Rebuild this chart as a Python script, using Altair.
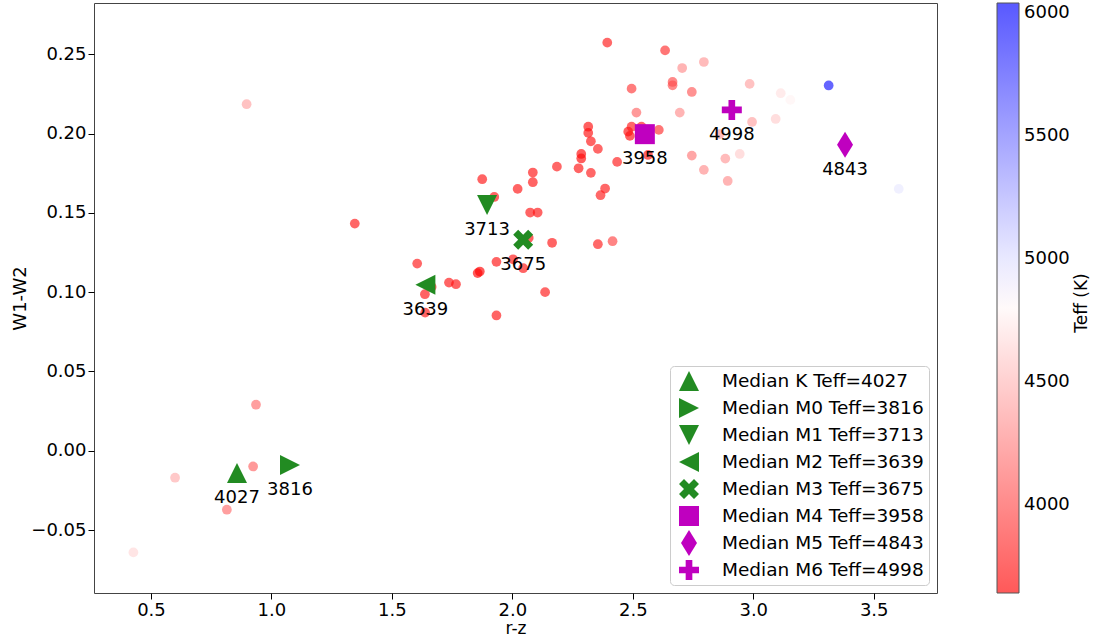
import altair as alt
import pandas as pd

# ---- scatter sample (r-z, W1-W2, Teff) ----
rz = [2.394, 2.634, 2.495, 2.665, 2.665, 2.745, 2.705, 2.795, 2.515, 2.695,
      2.481, 2.495, 2.536, 2.488, 2.608, 2.563, 2.315, 2.315, 2.326, 2.355,
      2.286, 2.286, 2.435, 2.275, 2.326, 2.385, 2.366, 2.185, 2.085, 2.085,
      2.022, 1.875, 1.925, 2.074, 2.105, 2.068, 2.165, 2.355, 2.416, 1.934,
      2.003, 2.045, 1.856, 1.865, 2.136, 1.934, 1.605, 1.665, 1.637, 1.737,
      1.766, 1.638, 1.346, 0.897, 0.936, 0.924, 0.600, 0.815, 0.427, 2.985,
      3.114, 3.154, 3.093, 2.995, 2.944, 2.884, 2.894, 2.795, 2.745, 2.861,
      3.313, 3.604]
w1w2 = [0.2573, 0.2524, 0.2283, 0.2325, 0.2304, 0.2262, 0.2413, 0.2451, 0.2132, 0.2132,
        0.2012, 0.2043, 0.2043, 0.1985, 0.2023, 0.1865, 0.2043, 0.2004, 0.1951, 0.1903,
        0.1871, 0.1843, 0.1821, 0.1781, 0.1752, 0.1653, 0.1611, 0.1791, 0.1754, 0.1693,
        0.1651, 0.1712, 0.1600, 0.1502, 0.1502, 0.1342, 0.1311, 0.1302, 0.1321, 0.1191,
        0.1207, 0.1151, 0.1120, 0.1130, 0.1000, 0.0853, 0.1180, 0.1032, 0.0987, 0.1060,
        0.1050, 0.0871, 0.1432, 0.2185, 0.0290, -0.0099, -0.0170, -0.0372, -0.0641, 0.2313,
        0.2254, 0.2212, 0.2092, 0.2073, 0.1871, 0.1842, 0.1701, 0.1771, 0.1861, 0.1997,
        0.2303, 0.1651]
teff = [3750, 3850, 3900, 4000, 4000, 4050, 4300, 4350, 4100, 4300,
        3700, 3750, 3750, 3700, 3850, 3700, 3700, 3700, 3720, 3750,
        3680, 3680, 3750, 3720, 3740, 3750, 3750, 3740, 3720, 3720,
        3720, 3720, 3720, 3720, 3720, 3700, 3720, 3760, 3950, 3720,
        3720, 3720, 3650, 3650, 3740, 3730, 3740, 3720, 3720, 3720,
        3720, 3720, 3740, 4400, 4150, 4100, 4450, 4150, 4650, 4400,
        4700, 4780, 4600, 4400, 4600, 4350, 4300, 4300, 4200, 4350,
        5950, 4950]

# ---- median markers ----
med_names = ["Median K Teff=4027", "Median M0 Teff=3816", "Median M1 Teff=3713",
             "Median M2 Teff=3639", "Median M3 Teff=3675", "Median M4 Teff=3958",
             "Median M5 Teff=4843", "Median M6 Teff=4998"]
med_labels = ["4027", "3816", "3713", "3639", "3675", "3958", "4843", "4998"]
med_rz = [0.857, 1.077, 1.895, 1.639, 2.045, 2.550, 3.381, 2.911]
med_w = [-0.0141, -0.0090, 0.1550, 0.1046, 0.1330, 0.1996, 0.1930, 0.2149]
med_colors = ["#228b22", "#228b22", "#228b22", "#228b22", "#228b22",
              "#bf00bf", "#bf00bf", "#bf00bf"]
med_shapes = [
    "M0,-1L1,1L-1,1Z",                       # triangle up
    "M1,0L-1,-1L-1,1Z",                      # triangle right
    "M0,1L1,-1L-1,-1Z",                      # triangle down
    "M-1,0L1,-1L1,1Z",                       # triangle left
    "M-0.5,-1L0,-0.5L0.5,-1L1,-0.5L0.5,0L1,0.5L0.5,1L0,0.5L-0.5,1L-1,0.5L-0.5,0L-1,-0.5Z",  # filled X
    "M-1,-1L1,-1L1,1L-1,1Z",                 # square
    "M0,-1.3L0.8,0L0,1.3L-0.8,0Z",           # thin diamond
    "M-0.333,-1L0.333,-1L0.333,-0.333L1,-0.333L1,0.333L0.333,0.333L0.333,1L-0.333,1L-0.333,0.333L-1,0.333L-1,-0.333L-0.333,-0.333Z",  # filled plus
]

x_ticks = [0.5, 1.0, 1.5, 2.0, 2.5, 3.0, 3.5]
y_ticks = [-0.05, 0.0, 0.05, 0.10, 0.15, 0.20, 0.25]
cbar_ticks = [4000, 4500, 5000, 5500, 6000]
cbar_title = ["Teff (K)"]

df = pd.DataFrame({"rz": rz, "w": w1w2, "teff": teff})
mdf = pd.DataFrame({"rz": med_rz, "w": med_w, "name": med_names, "lab": med_labels})
tdf = pd.DataFrame({"t": cbar_title})

xscale = alt.Scale(domain=[0.2635, 3.7627], nice=False, zero=False)
yscale = alt.Scale(domain=[-0.0897, 0.2823], nice=False, zero=False)

A = 0.65
points = alt.Chart(df).mark_circle(size=95, opacity=1).encode(
    x=alt.X("rz:Q", scale=xscale,
            axis=alt.Axis(title="r-z", values=x_ticks, format=".1f",
                          titleY=35, titleBaseline="middle", titleFontSize=17)),
    y=alt.Y("w:Q", scale=yscale,
            axis=alt.Axis(title="W1-W2", values=y_ticks, format=".2f",
                          titleX=-74, titleY=295, titleBaseline="middle",
                          titleAlign="center", titleAngle=270)),
    color=alt.Color(
        "teff:Q",
        scale=alt.Scale(domain=[3640, 4840, 6040],
                        range=[f"rgba(255,0,0,{A})", f"rgba(255,255,255,{A})", f"rgba(0,0,255,{A})"],
                        interpolate="rgb"),
        legend=alt.Legend(
            orient="none", legendX=903, legendY=0, direction="vertical",
            gradientLength=590, gradientThickness=22, title=None,
            labelFontSize=18, values=cbar_ticks, format="d", padding=0,
            gradientStrokeColor="#555", gradientStrokeWidth=1,
            labelOverlap=False, labelOffset=5,
        ),
    ),
)

leg = alt.Legend(
    title=None, orient="bottom-right", offset=8, padding=5,
    strokeColor="#cccccc", cornerRadius=4, fillColor="white",
    labelFontSize=18.5, labelLimit=400, symbolSize=400, rowPadding=1,
    gridAlign="all",
    labelOffset=23, symbolOffset=4, symbolStrokeWidth=0, symbolOpacity=1,
)

markers = alt.Chart(mdf).mark_point(filled=True, size=400, opacity=1, strokeWidth=0).encode(
    x=alt.X("rz:Q", scale=xscale),
    y=alt.Y("w:Q", scale=yscale),
    shape=alt.Shape("name:N", scale=alt.Scale(domain=med_names, range=med_shapes), legend=leg),
    fill=alt.Fill("name:N", scale=alt.Scale(domain=med_names, range=med_colors), legend=leg),
)

labels = alt.Chart(mdf).mark_text(dy=25, fontSize=18, align="center",
                                  baseline="middle", color="black").encode(
    x=alt.X("rz:Q", scale=xscale),
    y=alt.Y("w:Q", scale=yscale),
    text="lab:N",
)

cbar_lab = alt.Chart(tdf).mark_text(fontSize=17, angle=270, align="center",
                                    baseline="middle", color="black").encode(
    x=alt.value(988), y=alt.value(300), text="t:N",
)

chart = alt.layer(points, markers, labels, cbar_lab).properties(
    width=843, height=590,
    autosize=alt.AutoSizeParams(type="none"),
    padding={"left": 94, "top": 3, "right": 156, "bottom": 46},
).configure(
    font="DejaVu Sans",
).configure_view(
    stroke="#444444", strokeWidth=1,
).configure_axis(
    labelFontSize=18, titleFontSize=18, titleFontWeight="normal",
    labelColor="black", titleColor="black", tickColor="black",
    tickSize=6, domain=False, grid=False, labelPadding=2,
)

chart.save("out.html", embed_options={"renderer": "svg", "actions": False})
